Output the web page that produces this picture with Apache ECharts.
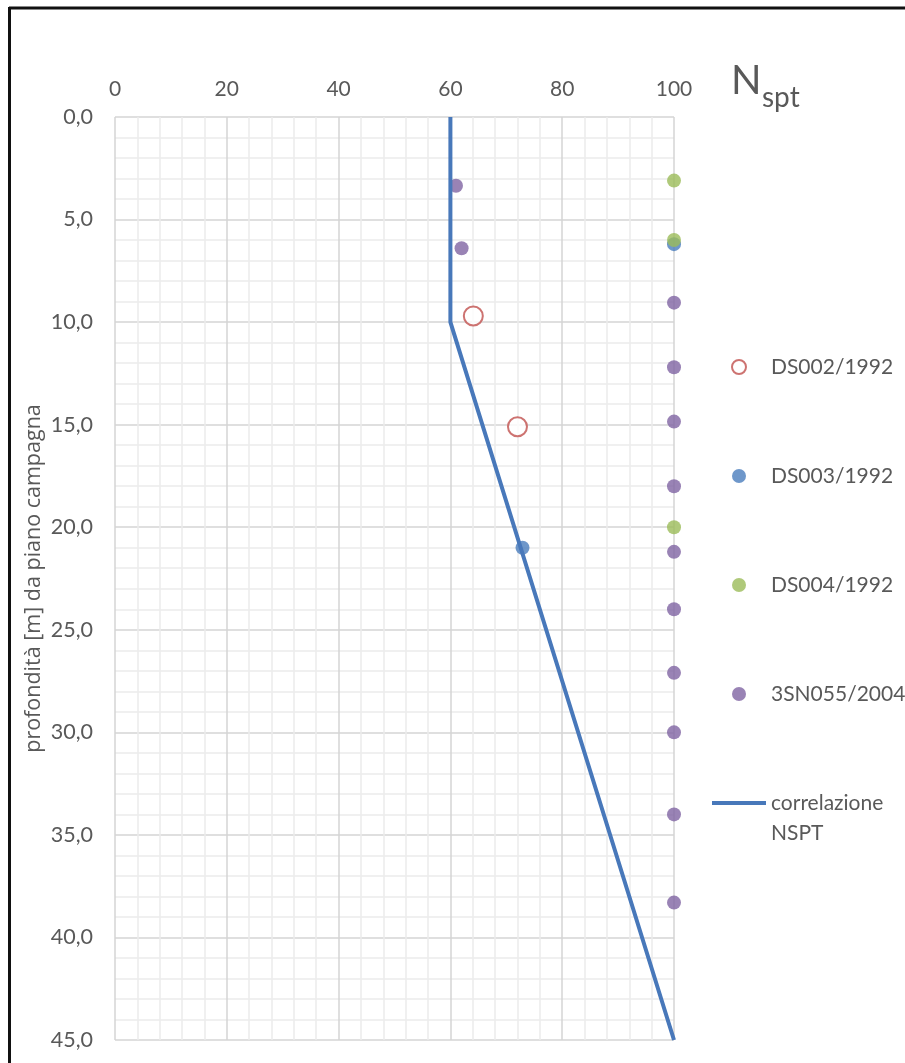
<!DOCTYPE html>
<html>
<head>
<meta charset="utf-8">
<script src="https://cdn.jsdelivr.net/npm/echarts@6/dist/echarts.min.js"></script>
<style>
  html, body { margin: 0; padding: 0; background: #fff; }
  #chart { width: 905px; height: 1063px; }
</style>
</head>
<body>
<div id="chart"></div>
<script>
// N_spt values versus depth [m] for each borehole: [N_spt, depth]
const ds002_1992 = [[64.1, 9.7], [72.0, 15.1]];
const ds003_1992 = [[100, 6.2], [72.9, 21.0]];
const ds004_1992 = [[100, 3.1], [100, 6.0], [100, 20.0]];
const sn055_2004 = [
  [61.0, 3.35], [62.0, 6.4], [100, 9.05], [100, 12.2], [100, 14.85], [100, 18.0],
  [100, 21.2], [100, 24.0], [100, 27.1], [100, 30.0], [100, 34.0], [100, 38.3]
];
// design correlation N_spt(z)
const correlazione = [[60, 0], [60, 10], [100, 45]];

const seriesNames = ['DS002/1992', 'DS003/1992', 'DS004/1992', '3SN055/2004', 'correlazione\nNSPT'];
const xTicks = { min: 0, max: 100, interval: 20 };
const yTicks = { min: 0, max: 45, interval: 5 };

const textColor = '#595959';
const fontFamily = 'Lato, "Open Sans", sans-serif';
const lineColor = '#4878BA';

const chart = echarts.init(document.getElementById('chart'), null, { renderer: 'canvas' });

const majorLine = { show: true, lineStyle: { color: '#d4d4d4', width: 1.5 } };
const minorLine = { show: true, lineStyle: { color: '#ececec', width: 1.5 } };

chart.setOption({
  backgroundColor: '#ffffff',
  animation: false,
  grid: { left: 115, top: 117, width: 559, height: 923, containLabel: false },
  xAxis: {
    type: 'value',
    position: 'top',
    min: xTicks.min, max: xTicks.max, interval: xTicks.interval,
    axisLine: { show: false },
    axisTick: { show: false },
    axisLabel: { color: textColor, fontSize: 21, fontFamily, margin: 17 },
    splitLine: majorLine,
    minorTick: { show: false, splitNumber: 5 },
    minorSplitLine: minorLine
  },
  yAxis: {
    type: 'value',
    inverse: true,
    min: yTicks.min, max: yTicks.max, interval: yTicks.interval,
    axisLine: { show: false },
    axisTick: { show: false },
    axisLabel: {
      color: textColor, fontSize: 21.5, fontFamily, margin: 22,
      formatter: v => v.toFixed(1).replace('.', ',')
    },
    splitLine: majorLine,
    minorTick: { show: false, splitNumber: 5 },
    minorSplitLine: minorLine,
    name: 'profondità [m] da piano campagna',
    nameLocation: 'middle',
    nameRotate: 90,
    nameGap: 70,
    nameMoveOverlap: false,
    nameTextStyle: { color: textColor, fontSize: 21.5, fontFamily: '"Open Sans", sans-serif' }
  },
  legend: [
    {
      data: seriesNames.slice(0, 4),
      orient: 'vertical',
      left: 726,
      top: 350,
      itemWidth: 54,
      itemHeight: 14,
      itemGap: 85,
      textStyle: { color: textColor, fontSize: 21, fontFamily, lineHeight: 24 }
    },
    {
      data: [{ name: seriesNames[4], icon: 'rect' }],
      orient: 'vertical',
      left: 707,
      top: 753,
      itemWidth: 54,
      itemHeight: 4,
      symbolKeepAspect: false,
      formatter: name => '\n' + name,
      textStyle: { color: textColor, fontSize: 21, fontFamily, lineHeight: 30 }
    }
  ],
  series: [
    {
      name: seriesNames[4],
      type: 'line',
      data: correlazione,
      symbol: 'none',
      lineStyle: { color: lineColor, width: 4 },
      itemStyle: { color: lineColor }
    },
    {
      name: seriesNames[0],
      type: 'scatter',
      data: ds002_1992,
      symbol: 'circle',
      symbolSize: 19,
      itemStyle: { color: '#ffffff', borderColor: '#C0504D', borderWidth: 2 }
    },
    {
      name: seriesNames[1],
      type: 'scatter',
      data: ds003_1992,
      symbolSize: 14,
      itemStyle: { color: '#4A7DBD' }
    },
    {
      name: seriesNames[2],
      type: 'scatter',
      data: ds004_1992,
      symbolSize: 14,
      itemStyle: { color: '#9BBB59' }
    },
    {
      name: seriesNames[3],
      type: 'scatter',
      data: sn055_2004,
      symbolSize: 14,
      itemStyle: { color: '#8064A2' }
    }
  ],
  graphic: [
    // outer frame (top and left edges)
    { type: 'line', shape: { x1: 9, y1: 8, x2: 905, y2: 8 }, style: { stroke: '#111', lineWidth: 3 }, silent: true },
    { type: 'line', shape: { x1: 9.5, y1: 7, x2: 9.5, y2: 1063 }, style: { stroke: '#111', lineWidth: 3 }, silent: true },
    // axis title N_spt
    {
      type: 'text', left: 731, top: 61, silent: true,
      style: { text: 'N', fontSize: 40, fontFamily, fill: textColor }
    },
    {
      type: 'text', left: 762, top: 84, silent: true,
      style: { text: 'spt', fontSize: 28, fontFamily, fill: textColor }
    }
  ]
});
</script>
</body>
</html>
